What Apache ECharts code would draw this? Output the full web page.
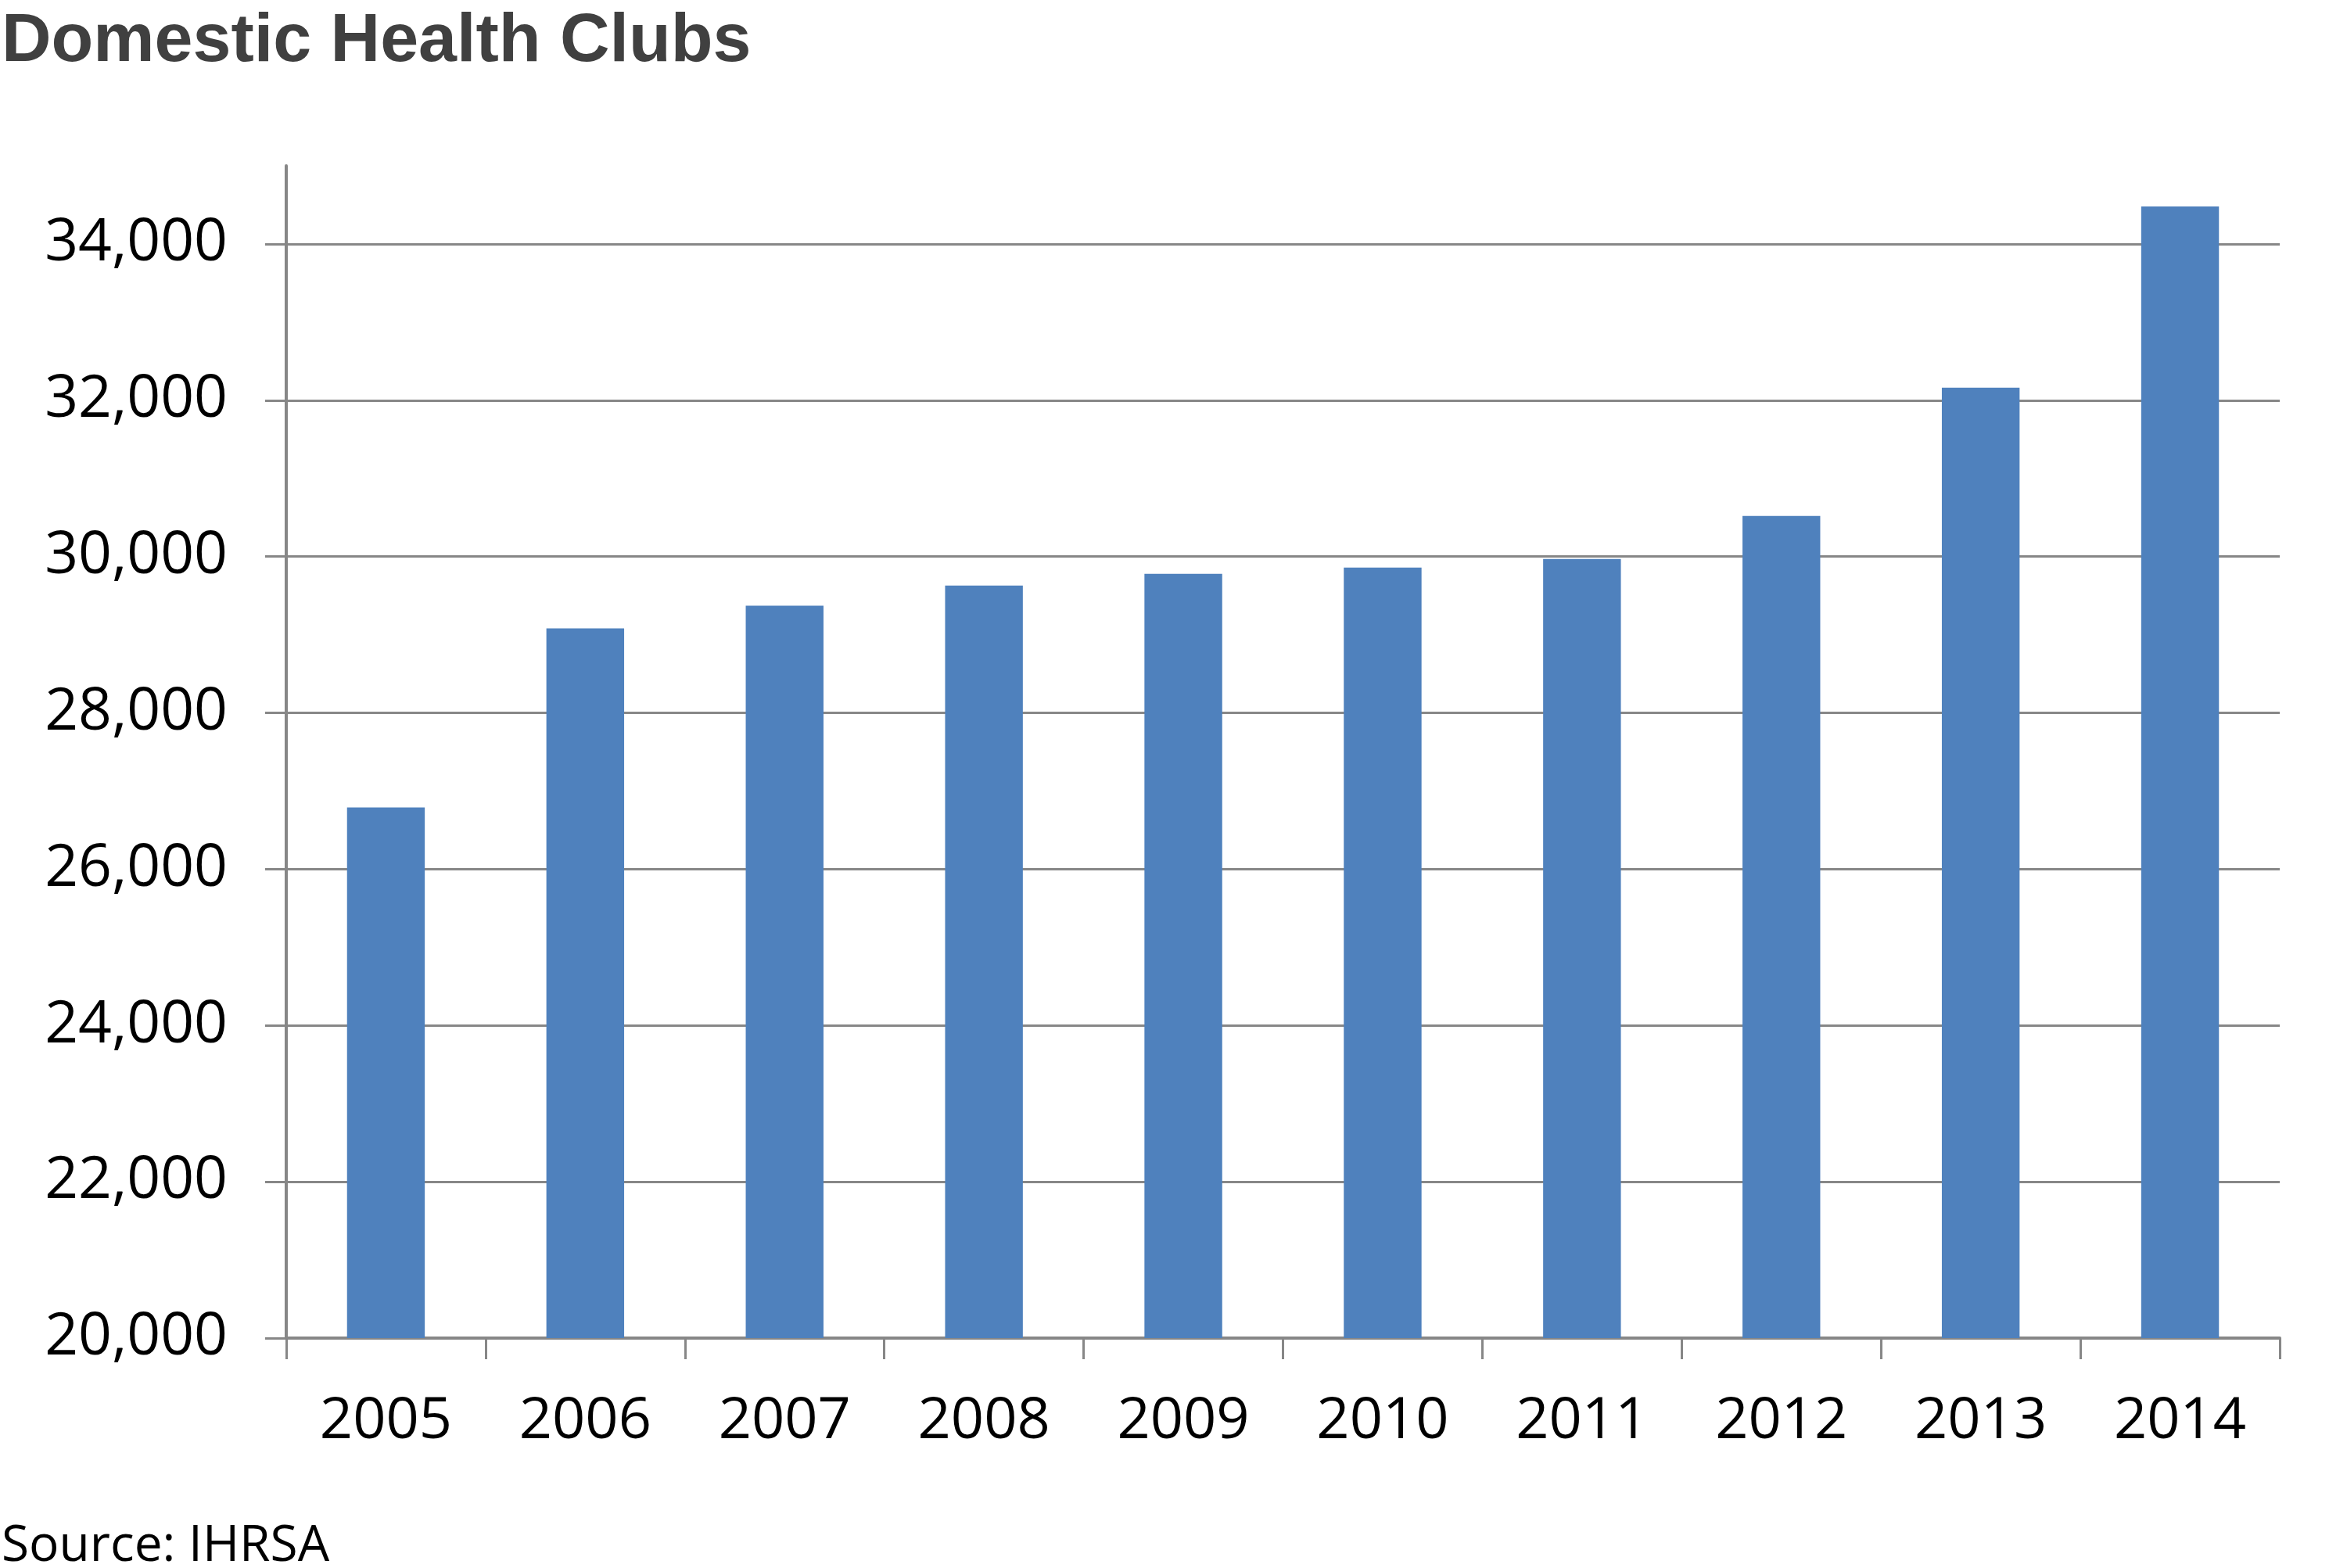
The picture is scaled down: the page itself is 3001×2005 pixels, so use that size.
<!DOCTYPE html>
<html>
<head>
<meta charset="utf-8">
<title>Domestic Health Clubs</title>
<script src="https://cdn.jsdelivr.net/npm/echarts@6/dist/echarts.min.js"></script>
<style>
html, body { margin: 0; padding: 0; background: #fff; }
#main { width: 3001px; height: 2005px; }
</style>
</head>
<body>
<div id="main"></div>
<script type="text/javascript">
// data
var years = ['2005', '2006', '2007', '2008', '2009', '2010', '2011', '2012', '2013', '2014'];
var clubs = [26790, 29080, 29370, 29630, 29780, 29860, 29970, 30520, 32160, 34480];
var yTicks = [20000, 22000, 24000, 26000, 28000, 30000, 32000, 34000];

var chart = echarts.init(document.getElementById('main'));

var labelFont = '"Open Sans", "DejaVu Sans Condensed", sans-serif';
var lineGray = '#878787';

var option = {
    animation: false,
    title: [{
        text: 'Domestic Health Clubs',
        left: 2,
        top: 10,
        padding: 0,
        textStyle: {
            fontFamily: '"Liberation Sans", Arial, sans-serif',
            fontWeight: 'bold',
            fontSize: 88,
            color: '#404040'
        }
    }, {
        text: 'Source: IHRSA',
        left: 2,
        top: 1946,
        padding: 0,
        textStyle: {
            fontFamily: labelFont,
            fontWeight: 'normal',
            fontSize: 64,
            color: '#000'
        }
    }],
    grid: {
        left: 366,
        right: 86,
        top: 212,
        bottom: 294,
        containLabel: false
    },
    xAxis: {
        type: 'category',
        data: years,
        axisLine: { lineStyle: { color: lineGray, width: 4 } },
        axisTick: { show: true, length: 27, lineStyle: { color: lineGray, width: 3 } },
        axisLabel: {
            margin: 70,
            fontFamily: labelFont,
            fontSize: 74,
            color: '#000'
        },
        splitLine: { show: false }
    },
    yAxis: {
        type: 'value',
        min: 20000,
        max: 35000,
        interval: 2000,
        axisLine: { show: true, lineStyle: { color: lineGray, width: 4 } },
        axisTick: {
            show: true,
            length: 27,
            customValues: yTicks,
            lineStyle: { color: lineGray, width: 3 }
        },
        axisLabel: {
            margin: 75,
            customValues: yTicks,
            fontFamily: labelFont,
            fontSize: 75,
            color: '#000',
            formatter: function (v) {
                return v.toLocaleString('en-US');
            }
        },
        splitLine: {
            show: true,
            lineStyle: { color: lineGray, width: 3 }
        }
    },
    series: [{
        name: 'Domestic Health Clubs',
        type: 'bar',
        data: clubs,
        barWidth: '39%',
        itemStyle: { color: '#4F81BD' }
    }]
};

chart.setOption(option);
</script>
</body>
</html>
